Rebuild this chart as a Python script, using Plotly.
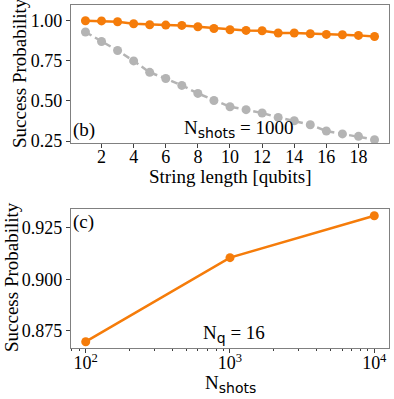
import plotly.graph_objects as go

# Data
string_length = list(range(1, 20))
p_orange = [0.998, 0.997, 0.992, 0.979, 0.973, 0.971, 0.969, 0.961, 0.950, 0.942,
            0.938, 0.936, 0.922, 0.922, 0.917, 0.913, 0.911, 0.907, 0.900]
p_gray = [0.928, 0.869, 0.813, 0.748, 0.677, 0.639, 0.596, 0.546, 0.502, 0.463,
          0.445, 0.424, 0.397, 0.376, 0.351, 0.312, 0.294, 0.279, 0.258]

n_shots = [100, 1000, 10000]
p_shots = [0.8698, 0.9105, 0.9308]

ORANGE = '#f57c0a'
GRAY = '#b4b4b4'
FONT = 'Liberation Serif'
FS = 19
TFS = 18
W, H = 394, 399

fig = go.Figure()

# panel (b)
fig.add_trace(go.Scatter(x=string_length, y=p_gray, mode='lines+markers',
                         line=dict(color=GRAY, width=2.5, dash='7px,4px'),
                         marker=dict(color=GRAY, size=9), xaxis='x', yaxis='y'))
fig.add_trace(go.Scatter(x=string_length, y=p_orange, mode='lines+markers',
                         line=dict(color=ORANGE, width=2.5),
                         marker=dict(color=ORANGE, size=9), xaxis='x', yaxis='y'))

# panel (c)
fig.add_trace(go.Scatter(x=n_shots, y=p_shots, mode='lines+markers',
                         line=dict(color=ORANGE, width=2.5),
                         marker=dict(color=ORANGE, size=9), xaxis='x2', yaxis='y2'))

axis_style = dict(showline=True, mirror=True, linecolor='#808080', linewidth=1.2,
                  ticks='outside', ticklen=4, tickcolor='#404040', showgrid=False,
                  zeroline=False, automargin=False,
                  tickfont=dict(family=FONT, size=TFS, color='black'))

def sub(s):
    return "<sub><span style=\"font-family:'DejaVu Sans';font-size:14px\">" + s + "</span></sub>"

minor_log = [v * d for d in (10, 100, 1000, 10000) for v in range(2, 10)]

top_dom = [0.6416, 0.9875]
bot_dom = [0.1286, 0.4754]
x_dom = [0.1802, 0.9873]

def label(text, px, py, angle=0):
    return dict(text=text, xref='paper', yref='paper', x=px / W, y=1 - py / H,
                xanchor='center', yanchor='middle', textangle=angle,
                showarrow=False, font=dict(size=FS))

fig.update_layout(
    width=W, height=H, showlegend=False,
    margin=dict(l=0, r=0, t=0, b=0),
    plot_bgcolor='white', paper_bgcolor='white',
    font=dict(family=FONT, size=FS, color='black'),
    xaxis=dict(domain=x_dom, range=[0.1, 19.9], tickvals=list(range(2, 20, 2)),
               ticklabelstandoff=-7, anchor='y', **axis_style),
    yaxis=dict(domain=top_dom, range=[0.2376, 1.096],
               tickvals=[0.25, 0.5, 0.75, 1.0], ticktext=['0.25', '0.50', '0.75', '1.00'],
               anchor='x', **axis_style),
    xaxis2=dict(domain=x_dom, type='log', range=[1.898, 4.102],
                tickvals=[100, 1000, 10000],
                ticktext=['10<sup>2</sup>', '10<sup>3</sup>', '10<sup>4</sup>'],
                ticklabelstandoff=-5,
                minor=dict(ticks='outside', ticklen=2, tickcolor='#404040', tickvals=minor_log),
                anchor='y2', **axis_style),
    yaxis2=dict(domain=bot_dom, range=[0.8669, 0.9339],
                tickvals=[0.875, 0.9, 0.925], ticktext=['0.875', '0.900', '0.925'],
                anchor='x2', **axis_style),
    annotations=[
        # axis titles
        label('Success Probability', 20, 73, -90),
        label('Success Probability', 11, 277, -90),
        label('String length [qubits]', 230, 176),
        label('N' + sub('shots'), 230, 384),
        # in-panel texts
        dict(text='(b)', xref='x domain', yref='y domain', x=0.0, y=0.0,
             xanchor='left', yanchor='bottom', showarrow=False, font=dict(size=FS)),
        dict(text='N' + sub('shots') + ' = 1000', xref='x domain', yref='y domain',
             x=0.35, y=0.0, xanchor='left', yanchor='bottom', showarrow=False, font=dict(size=FS)),
        dict(text='(c)', xref='x2 domain', yref='y2 domain', x=0.0, y=1.0,
             xanchor='left', yanchor='top', showarrow=False, font=dict(size=FS)),
        dict(text='N' + sub('q') + ' = 16', xref='x2 domain', yref='y2 domain',
             x=0.41, y=0.0, xanchor='left', yanchor='bottom', showarrow=False, font=dict(size=FS)),
    ],
)

# remove the default page margin so the figure sits at the window's top-left corner
fig.write_html('out.html', config={'displayModeBar': False},
               post_script="document.body.style.margin='0';")
